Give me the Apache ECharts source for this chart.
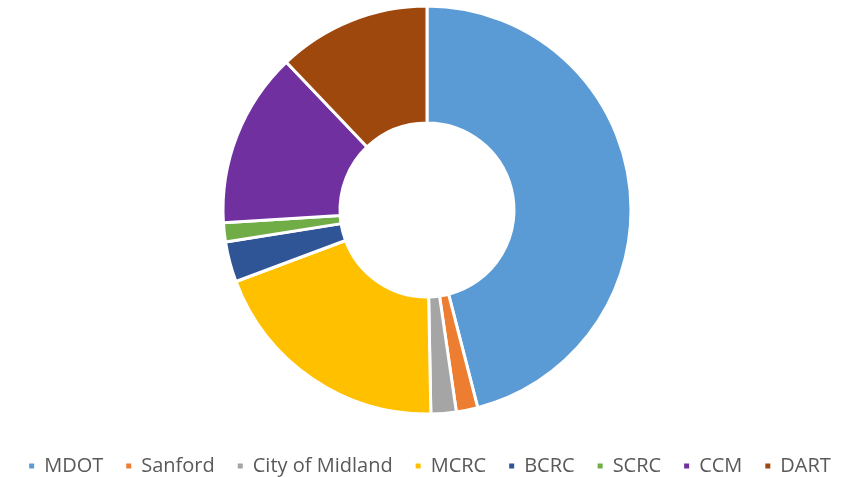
<!DOCTYPE html>
<html>
<head>
<meta charset="utf-8">
<script src="https://cdn.jsdelivr.net/npm/echarts@6/dist/echarts.min.js"></script>
<style>
  html, body { margin: 0; padding: 0; background: #fff; }
  #chart { width: 858px; height: 477px; }
</style>
</head>
<body>
<div id="chart"></div>
<script>
const agencies = ['MDOT', 'Sanford', 'City of Midland', 'MCRC', 'BCRC', 'SCRC', 'CCM', 'DART']
const shares = [46.0, 1.7, 2.0, 19.6, 3.2, 1.5, 13.9, 12.1]
const colors = ['#5b9bd5', '#ed7d31', '#a5a5a5', '#ffc000', '#2f5597', '#70ad47', '#7030a0', '#9e480e']

const chart = echarts.init(document.getElementById('chart'))

chart.setOption({
  animation: false,
  color: colors,
  legend: {
    top: 451,
    left: 'center',
    icon: 'rect',
    itemWidth: 7,
    itemHeight: 7,
    itemGap: 21,
    textStyle: {
      fontFamily: 'Open Sans',
      fontSize: 20,
      color: '#595959',
      padding: [0, 0, 0, 4]
    },
    data: agencies
  },
  series: [
    {
      type: 'pie',
      center: [427, 210],
      radius: [87, 204],
      startAngle: 90,
      clockwise: true,
      label: { show: false },
      labelLine: { show: false },
      itemStyle: {
        borderColor: '#fff',
        borderWidth: 3
      },
      data: agencies.map((name, i) => ({ name, value: shares[i] }))
    }
  ]
})
</script>
</body>
</html>
